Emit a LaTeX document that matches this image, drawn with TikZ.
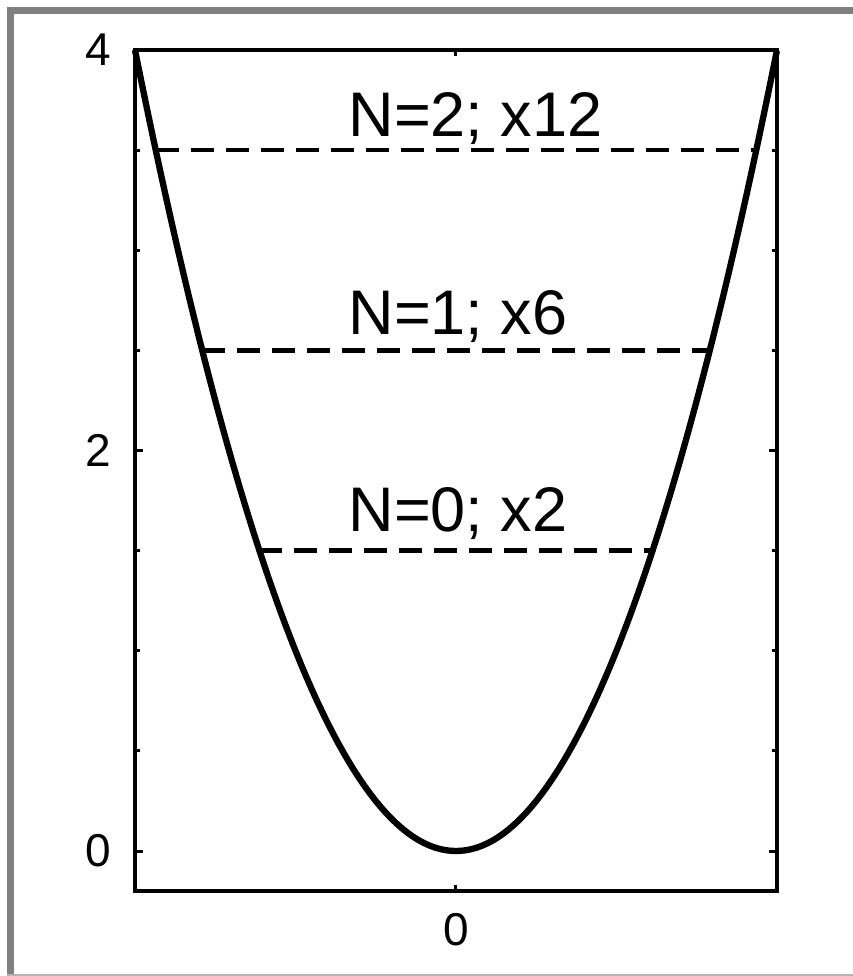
\documentclass[tikz,border=0pt]{standalone}
\usepackage{fontspec}
\setmainfont{Liberation Sans}
\usepackage{tikz}
\usetikzlibrary{positioning}
\definecolor{frameGray}{HTML}{808080}
\definecolor{rimGray}{HTML}{B4B4B4}
\tikzset{
  axisbox/.style={draw,line width=3.3pt},
  tickline/.style={line width=3pt},
  curve/.style={line width=6.3pt,line join=round},
  level/.style={line width=4.3pt,dash pattern=on 23pt off 12pt},
  ticklab/.style={inner sep=0pt,font=\fontsize{46}{55}\selectfont},
  levlab/.style={inner sep=0pt,anchor=base west,font=\fontsize{63}{75}\selectfont},
}

\begin{document}
\begin{tikzpicture}[x=160.5pt,y=200.25pt]
\useasboundingbox (-2.8411,-0.6242) rectangle (2.4735,4.2497);
% window frame
\draw[frameGray,line width=7pt] (-2.7757,-0.6150) -- (-2.7757,4.1973) -- (2.4735,4.1973);
\draw[rimGray,line width=2pt] (-2.7975,-0.6192) -- (2.4735,-0.6192);

% axes with ticks
\draw[axisbox] (-2,-0.2) rectangle (2,4);
\foreach \t in {0.5,1,1.5,2.5,3,3.5} {
  \draw[tickline] (-2,\t) -- (-1.969,\t);
  \draw[tickline] (2,\t) -- (1.969,\t);
}
\foreach \t in {0,2} {
  \draw[tickline] (-2,\t) -- (-1.95,\t);
  \draw[tickline] (2,\t) -- (1.95,\t);
}
\draw[tickline] (0,-0.2) -- (0,-0.17);
\draw[tickline] (0,4) -- (0,3.97);

% tick labels
\node[ticklab,anchor=east] (y4) at (-2.145,4) {4};
\node[ticklab,anchor=east] (y2) at (-2.145,2) {2};
\node[ticklab,anchor=east] (y0) at (-2.145,0) {0};
\node[ticklab] (x0) at (0,-0.3945) {0};

% potential well
\draw[curve] plot[domain=-2:2,samples=121] (\x,{\x*\x});

% energy levels
\foreach \lev/\lab/\by [count=\i] in {3.5/{N=2; x12}/3.567, 2.5/{N=1; x6}/2.58, 1.5/{N=0; x2}/1.593} {
  \draw[level] ({-sqrt(\lev)},\lev) -- ({sqrt(\lev)},\lev);
  \node[levlab] (lev\i) at (-0.67,\by) {\lab};
}
\end{tikzpicture}
\end{document}
